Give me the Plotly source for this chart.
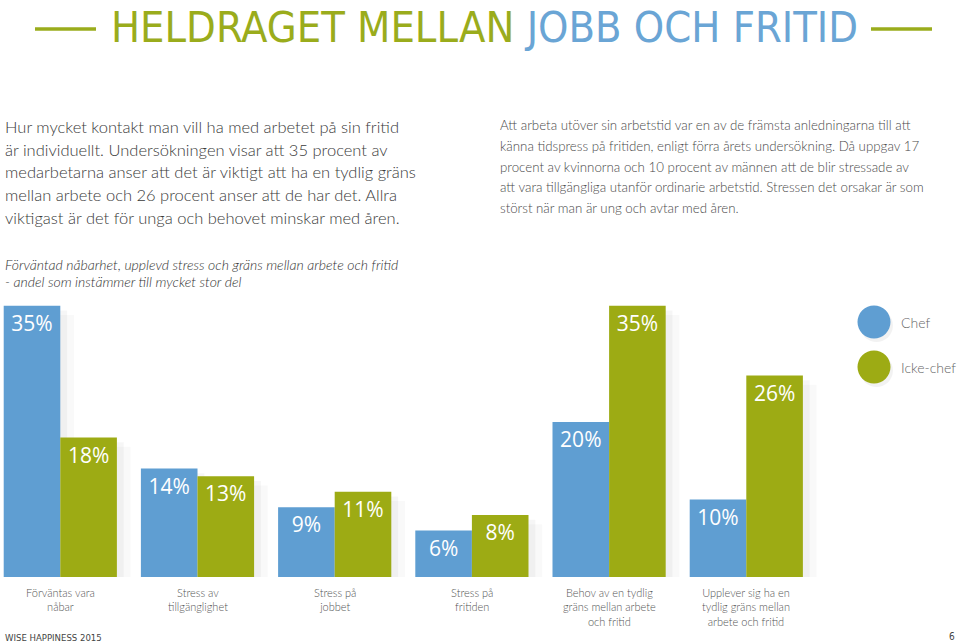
import plotly.graph_objects as go

categories = ["Förväntas vara<br>nåbar", "Stress av<br>tillgänglighet", "Stress på<br>jobbet",
              "Stress på<br>fritiden", "Behov av en tydlig<br>gräns mellan arbete<br>och fritid",
              "Upplever sig ha en<br>tydlig gräns mellan<br>arbete och fritid"]
chef = [35, 14, 9, 6, 20, 10]
icke_chef = [18, 13, 11, 8, 35, 26]
series_names = ["Chef", "Icke-chef"]

BLUE = "#5f9ed2"
GREEN = "#9dab14"
W, H = 960, 643
BASE_PX = 577  # pixel row of the bar baseline
PX_PER_UNIT = 7.75

def py(p):
    """pixel row -> paper y"""
    return (BASE_PX - p) / BASE_PX

def px(p):
    return p / W

idx = list(range(len(categories)))
bw = 0.4125

fig = go.Figure()
# soft shadows
for vals, off in [(chef, -bw), (icke_chef, 0)]:
    for sh, a in [(0.05, 0.035), (0.1, 0.025)]:
        fig.add_trace(go.Bar(x=idx, y=vals, base=[-sh * 12] * len(vals), offset=off + sh, width=bw,
                             marker=dict(color=f"rgba(0,0,0,{a})", line=dict(width=0)),
                             hoverinfo="skip", showlegend=False))
for vals, off, col, name in [(chef, -bw, BLUE, series_names[0]), (icke_chef, 0, GREEN, series_names[1])]:
    fig.add_trace(go.Bar(x=idx, y=vals, offset=off, width=bw, name=name,
                         marker=dict(color=col, line=dict(width=0)),
                         text=[f"{v}%" for v in vals], textposition="inside", insidetextanchor="end",
                         textangle=0, constraintext="none",
                         textfont=dict(color="white", size=21, family="Open Sans"),
                         showlegend=False, cliponaxis=False))

unit_px = 137.2
x0 = -60.3 / unit_px
fig.update_xaxes(range=[x0, x0 + W / unit_px], visible=False, fixedrange=True)
fig.update_yaxes(range=[0, BASE_PX / PX_PER_UNIT], visible=False, fixedrange=True)

ann = []
# category labels
for i, c in enumerate(categories):
    ann.append(dict(x=i, y=py(584), xref="x", yref="paper", text=c, showarrow=False,
                    xanchor="center", yanchor="top", align="center",
                    font=dict(family="Lato", size=11, color="#555555", weight=300)))

# title
ann.append(dict(x=px(484), y=py(27), xref="paper", yref="paper", showarrow=False,
                xanchor="center", yanchor="middle",
                text="<span style='color:#9aac1c'>HELDRAGET MELLAN</span> <span style='color:#6aa5d5'>JOBB OCH FRITID</span>",
                font=dict(family="DejaVu Sans Condensed, Roboto", size=43)))

left_lines = ["Hur mycket kontakt man vill ha med arbetet på sin fritid",
              "är individuellt. Undersökningen visar att 35 procent av",
              "medarbetarna anser att det är viktigt att ha en tydlig gräns",
              "mellan arbete och 26 procent anser att de har det. Allra",
              "viktigast är det för unga och behovet minskar med åren."]
for k, t in enumerate(left_lines):
    ann.append(dict(x=px(3), y=py(127 + k * 22.7), xref="paper", yref="paper", text=t, showarrow=False,
                    xanchor="left", yanchor="middle",
                    font=dict(family="Lato", size=16.5, color="#3a3a3a", weight=300)))

right_lines = ["Att arbeta utöver sin arbetstid var en av de främsta anledningarna till att",
               "känna tidspress på fritiden, enligt förra årets undersökning. Då uppgav 17",
               "procent av kvinnorna och 10 procent av männen att de blir stressade av",
               "att vara tillgängliga utanför ordinarie arbetstid. Stressen det orsakar är som",
               "störst när man är ung och avtar med åren."]
for k, t in enumerate(right_lines):
    ann.append(dict(x=px(498), y=py(125 + k * 20.8), xref="paper", yref="paper", text=t, showarrow=False,
                    xanchor="left", yanchor="middle",
                    font=dict(family="Lato", size=13.3, color="#4a4a4a", weight=300)))

sub_lines = ["Förväntad nåbarhet, upplevd stress och gräns mellan arbete och fritid",
             "- andel som instämmer till mycket stor del"]
for k, t in enumerate(sub_lines):
    ann.append(dict(x=px(3), y=py(264 + k * 17), xref="paper", yref="paper", text=f"<i>{t}</i>",
                    showarrow=False, xanchor="left", yanchor="middle",
                    font=dict(family="Lato", size=14, color="#333333", weight=300)))

# legend
shapes = []
for k, (name, col) in enumerate(zip(series_names, [BLUE, GREEN])):
    cy = 322 + k * 45
    shapes.append(dict(type="circle", xref="paper", yref="paper",
                       x0=px(860), x1=px(893), y0=py(cy + 20), y1=py(cy - 13),
                       fillcolor="rgba(0,0,0,0.05)", line=dict(width=0)))
    shapes.append(dict(type="circle", xref="paper", yref="paper",
                       x0=px(857.5), x1=px(890.5), y0=py(cy + 16.5), y1=py(cy - 16.5),
                       fillcolor=col, line=dict(width=0)))
    ann.append(dict(x=px(899), y=py(cy + 1), xref="paper", yref="paper", text=name, showarrow=False,
                    xanchor="left", yanchor="middle",
                    font=dict(family="Lato", size=14, color="#666666", weight=300)))

# title dashes
for a, b in [(35, 96), (871, 932)]:
    shapes.append(dict(type="line", xref="paper", yref="paper", x0=px(a), x1=px(b), y0=py(29), y1=py(29),
                       line=dict(color="#9aac1c", width=3.5)))

ann.append(dict(x=px(3), y=py(637), xref="paper", yref="paper", text="WISE HAPPINESS 2015", showarrow=False,
                xanchor="left", yanchor="middle",
                font=dict(family="DejaVu Sans Condensed, Roboto", size=9.5, color="#444444")))
ann.append(dict(x=px(957), y=py(636), xref="paper", yref="paper", text="6", showarrow=False,
                xanchor="right", yanchor="middle",
                font=dict(family="DejaVu Sans Condensed, Roboto", size=10, color="#444444")))

fig.update_layout(width=W, height=H, margin=dict(l=0, r=0, t=0, b=H - BASE_PX),
                  barmode="overlay", plot_bgcolor="white", paper_bgcolor="white",
                  annotations=ann, shapes=shapes, showlegend=False)

fig.write_html("out.html", config={"displayModeBar": False},
               post_script="document.body.style.margin='0';")
